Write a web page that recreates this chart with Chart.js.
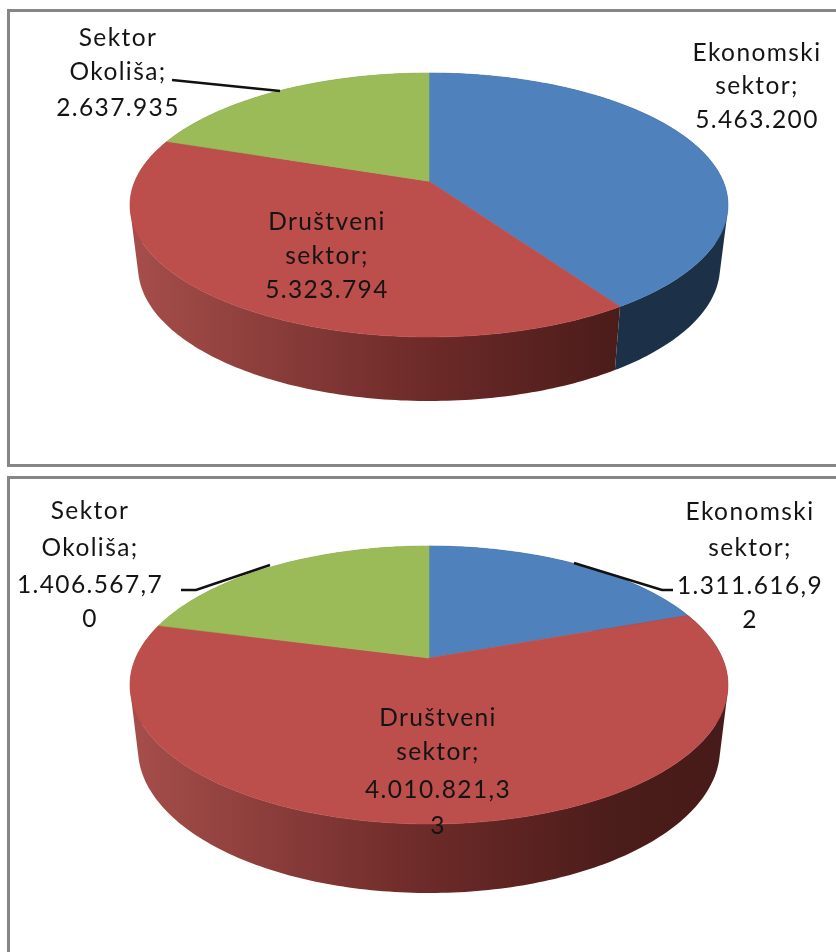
<!DOCTYPE html>
<html>
<head>
<meta charset="utf-8">
<script src="https://cdn.jsdelivr.net/npm/chart.js@4"></script>
<style>
  html, body { margin: 0; padding: 0; background: #fff; overflow: hidden; }
  body { width: 836px; height: 952px; position: relative; }
  .frame { position: absolute; left: 7px; border: 3px solid #868686; box-sizing: border-box; }
  #frameA { top: 9px; width: 840px; height: 458px; }
  #frameB { top: 476px; width: 840px; height: 490px; }
  canvas { position: absolute; left: 0; }
  #chartA { top: 0; }
  #chartB { top: 470px; }
</style>
</head>
<body>
<div class="frame" id="frameA"></div>
<div class="frame" id="frameB"></div>
<canvas id="chartA" width="836" height="470"></canvas>
<canvas id="chartB" width="836" height="482"></canvas>
<script>
const categories = ['Ekonomski sektor', 'Društveni sektor', 'Sektor Okoliša'];
const colors = ['#4F81BD', '#BC4E4B', '#9BBB59'];

const valuesA = [5463200, 5323794, 2637935];
const valuesB = [1311616.92, 4010821.33, 1406567.70];

// tekst oznaka, prelomljen kao na slici
const textA = [
  ['Ekonomski', 'sektor;', '5.463.200'],
  ['Društveni', 'sektor;', '5.323.794'],
  ['Sektor', 'Okoliša;', '2.637.935']
];
const textB = [
  ['Ekonomski', 'sektor;', '1.311.616,9', '2'],
  ['Društveni', 'sektor;', '4.010.821,3', '3'],
  ['Sektor', 'Okoliša;', '1.406.567,7', '0']
];

// sideStops: boja boka po x osi, za svaki sektor
const sideStops = [
  [[0, '#1C3148'], [1, '#1C3148']],
  [[0, '#A64E4B'], [0.5, '#6C2A28'], [0.82, '#4A1C1A'], [1, '#471B19']],
  [[0, '#5F7435'], [1, '#5F7435']]
];

const pie3d = {
  id: 'pie3d',
  beforeDatasetDraw(chart, args, opts) {
    const ctx = chart.ctx;
    const arcs = chart.getDatasetMeta(0).data;
    const bg = chart.data.datasets[0].backgroundColor;
    const k = Math.sqrt(1 - opts.tilt * opts.tilt);

    // perspektiva: centar pite se pomice prema gore, rub ostaje elipsa
    const rim = (t, e) => {
      const u = Math.sin(t), v = Math.cos(t), d = 1 + opts.tilt * v;
      return [e.cx + e.rx * u * k / d, e.cy - e.ry * (v + opts.tilt) / d];
    };
    const samples = (arc) => {
      const a = arc.startAngle + Math.PI / 2, b = arc.endAngle + Math.PI / 2;
      const n = Math.ceil((b - a) * 60), out = [];
      for (let i = 0; i <= n; i++) out.push(a + (b - a) * i / n);
      return out;
    };

    // bokovi: male plohe u jednom putu, sve u istom smjeru da se ne ponistavaju
    arcs.forEach((arc, i) => {
      const ts = samples(arc);
      const g = ctx.createLinearGradient(opts.top.cx - opts.top.rx, 0, opts.top.cx + opts.top.rx, 0);
      sideStops[i].forEach(s => g.addColorStop(s[0], s[1]));
      ctx.beginPath();
      for (let j = 0; j < ts.length - 1; j++) {
        const quad = [rim(ts[j], opts.top), rim(ts[j + 1], opts.top), rim(ts[j + 1], opts.base), rim(ts[j], opts.base)];
        let area = 0;
        quad.forEach((p, n) => {
          const q = quad[(n + 1) % 4];
          area += p[0] * q[1] - q[0] * p[1];
        });
        if (area < 0) quad.reverse();
        quad.forEach((p, n) => n ? ctx.lineTo(p[0], p[1]) : ctx.moveTo(p[0], p[1]));
        ctx.closePath();
      }
      ctx.fillStyle = g;
      ctx.fill();
    });

    // gornja ploha
    arcs.forEach((arc, i) => {
      ctx.beginPath();
      ctx.moveTo(opts.top.cx, opts.top.cy - opts.top.ry * opts.tilt);
      samples(arc).forEach(t => {
        const p = rim(t, opts.top);
        ctx.lineTo(p[0], p[1]);
      });
      ctx.closePath();
      ctx.fillStyle = bg[i];
      ctx.strokeStyle = bg[i];
      ctx.lineWidth = 0.6;
      ctx.fill();
      ctx.stroke();
    });
    return false;
  },
  afterDatasetsDraw(chart, args, opts) {
    const ctx = chart.ctx;
    ctx.save();
    ctx.strokeStyle = '#111';
    ctx.lineWidth = 2.6;
    opts.leaders.forEach(l => {
      ctx.beginPath();
      l.forEach((p, j) => j ? ctx.lineTo(p[0], p[1]) : ctx.moveTo(p[0], p[1]));
      ctx.stroke();
    });
    ctx.fillStyle = '#141414';
    ctx.font = '24.5px Lato';
    ctx.letterSpacing = '1.4px';
    ctx.textAlign = 'center';
    ctx.textBaseline = 'middle';
    opts.labels.forEach(l => {
      l.lines.forEach((s, j) => ctx.fillText(s, l.x, l.ys[j]));
    });
    ctx.restore();
  }
};

const plot = (id, values, opts) => {
  new Chart(document.getElementById(id).getContext('2d'), {
    type: 'pie',
    data: {
      labels: categories,
      datasets: [{ data: values, backgroundColor: colors, borderWidth: 0 }]
    },
    options: {
      responsive: false,
      animation: false,
      plugins: {
        legend: { display: false },
        tooltip: { enabled: false },
        pie3d: opts
      }
    },
    plugins: [pie3d]
  });
};

plot('chartA', valuesA, {
  tilt: 0.18,
  top: { cx: 429, cy: 205, rx: 299, ry: 132 },
  base: { cx: 429, cy: 267, rx: 291, ry: 134 },
  leaders: [[[172, 80], [280, 91]]],
  labels: [
    { lines: textA[0], x: 757, ys: [53, 86, 120] },
    { lines: textA[1], x: 327, ys: [222, 256, 290] },
    { lines: textA[2], x: 118, ys: [38, 72, 108] }
  ]
});

plot('chartB', valuesB, {
  tilt: 0.194,
  top: { cx: 429, cy: 215, rx: 299, ry: 139 },
  base: { cx: 429, cy: 279, rx: 291, ry: 144 },
  leaders: [[[181, 120], [196, 120], [270, 95]], [[574, 93], [662, 120], [673, 120]]],
  labels: [
    { lines: textB[0], x: 750, ys: [42, 78, 116, 150] },
    { lines: textB[1], x: 438, ys: [248, 282, 320, 356] },
    { lines: textB[2], x: 90, ys: [41, 78, 115, 149] }
  ]
});
</script>
</body>
</html>
